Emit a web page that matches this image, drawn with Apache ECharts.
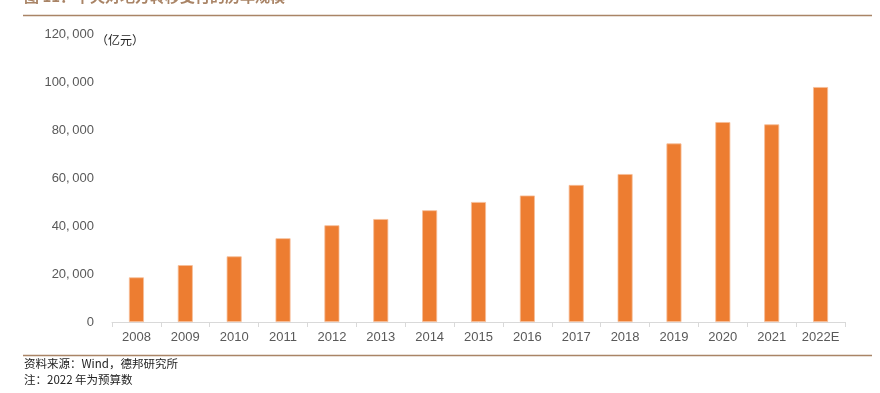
<!DOCTYPE html>
<html><head><meta charset="utf-8">
<script src="https://cdn.jsdelivr.net/npm/echarts@6/dist/echarts.min.js"></script>
<style>html,body{margin:0;padding:0;background:#fff}#c{width:880px;height:393px}</style>
</head><body><div id="c"></div>
<script>
const categories = ['2008','2009','2010','2011','2012','2013','2014','2015','2016','2017','2018','2019','2020','2021','2022E'];
const values = [18600, 23700, 27350, 34900, 40300, 42900, 46550, 50000, 52700, 57100, 61650, 74400, 83300, 82350, 97900];
const yTicks = [0, 20000, 40000, 60000, 80000, 100000, 120000];
const titleText = '图 11：中央对地方转移支付的历年规模';
const unitText = '（亿元）';
const sourceText = '资料来源：Wind，德邦研究所';
const noteText = '注：2022 年为预算数';

const chart = echarts.init(document.getElementById('c'), null, {renderer:'canvas'});
const cjk = '"Noto Sans CJK SC", sans-serif';
chart.setOption({
  animation:false,
  grid:{left:112, right:35, top:34, bottom:71, containLabel:false},
  xAxis:{type:'category', data:categories, boundaryGap:true,
    axisLine:{lineStyle:{color:'#d9d9d9', width:1}},
    axisTick:{show:true, alignWithLabel:false, length:5, lineStyle:{color:'#d9d9d9'}},
    axisLabel:{interval:0, color:'#595959', fontSize:13, fontFamily:'"Liberation Sans", Arial, sans-serif', margin:9}},
  yAxis:{type:'value', min:yTicks[0], max:yTicks[yTicks.length-1], interval:20000,
    splitLine:{show:false}, axisLine:{show:false}, axisTick:{show:false},
    axisLabel:{color:'#595959', fontSize:13, fontFamily:'"Liberation Sans", Arial, sans-serif', margin:18,
      formatter:v=>v.toLocaleString('en-US').replace(/,/g, ',\u2009')}},
  series:[{type:'bar', data:values, barWidth:15,
    itemStyle:{color:'#ED7D31', borderColor:'#F6BE98', borderWidth:0.8}}],
  graphic:[
    {type:'text', left:24, top:-11, style:{text:titleText, fill:'#A98466', font:'bold 15px '+cjk}},
    {type:'line', shape:{x1:23, y1:15.5, x2:872, y2:15.5}, style:{stroke:'#A98466', lineWidth:1.5}},
    {type:'text', left:96, top:34, style:{text:unitText, fill:'#222', font:'12px '+cjk}},
    {type:'line', shape:{x1:23, y1:355.5, x2:872, y2:355.5}, style:{stroke:'#A98466', lineWidth:1.5}},
    {type:'text', left:24, top:358, style:{text:sourceText, fill:'#222', font:'11.5px '+cjk}},
    {type:'text', left:24, top:374, style:{text:noteText, fill:'#222', font:'11.5px '+cjk}}
  ]
});
</script></body></html>
